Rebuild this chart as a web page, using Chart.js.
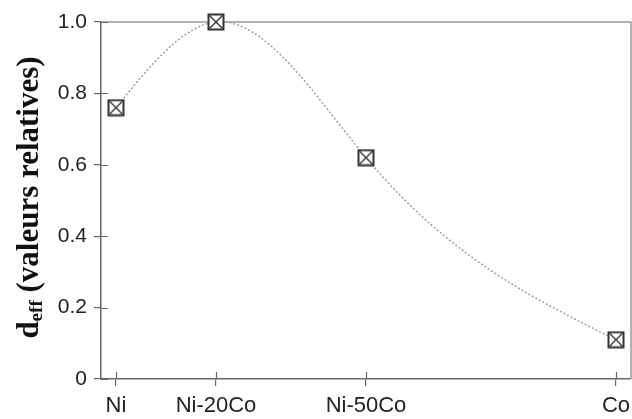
<!DOCTYPE html>
<html lang="fr">
<head>
<meta charset="UTF-8">
<title>d_eff relatif</title>
<script src="https://cdn.jsdelivr.net/npm/chart.js"></script>
<style>
  body { margin: 0; background: #fff; }
  #wrap { width: 632px; height: 419px; position: relative; }
</style>
</head>
<body>
<div id="wrap"><canvas id="deffChart"></canvas></div>
<script>
// composition en % de Co, étiquettes et valeurs relatives de d_eff
const compositions = [0, 20, 50, 100];
const alloyLabels = ['Ni', 'Ni-20Co', 'Ni-50Co', 'Co'];
const deffValues = [0.76, 1.0, 0.62, 0.11];
const yTickValues = [0, 0.2, 0.4, 0.6, 0.8, 1.0];

const axisColor = '#666';
const sans = '"Liberation Sans", Arial, sans-serif';

// carré barré (marqueur)
function makeMarker() {
    const c = document.createElement('canvas');
    c.width = 18; c.height = 18;
    const g = c.getContext('2d');
    g.fillStyle = '#fff';
    g.fillRect(1.5, 1.5, 15, 15);
    g.strokeStyle = '#333';
    g.lineWidth = 2;
    g.strokeRect(1.5, 1.5, 15, 15);
    g.lineWidth = 1.4;
    g.beginPath();
    g.moveTo(2.5, 2.5); g.lineTo(15.5, 15.5);
    g.moveTo(15.5, 2.5); g.lineTo(2.5, 15.5);
    g.stroke();
    return c;
}

// pentes d'une spline cubique naturelle (comme la courbe lissée d'origine)
function naturalSlopes(xs, ys) {
    const n = xs.length;
    const h = [], s = [];
    for (let i = 0; i < n - 1; i++) {
        h.push(xs[i + 1] - xs[i]);
        s.push((ys[i + 1] - ys[i]) / h[i]);
    }
    const M = new Array(n).fill(0);
    if (n > 2) {
        const a = [], b = [], c = [], d = [];
        for (let i = 1; i < n - 1; i++) {
            a.push(h[i - 1]); b.push(2 * (h[i - 1] + h[i])); c.push(h[i]);
            d.push(6 * (s[i] - s[i - 1]));
        }
        const m = b.length;
        for (let i = 1; i < m; i++) {
            const w = a[i] / b[i - 1];
            b[i] -= w * c[i - 1];
            d[i] -= w * d[i - 1];
        }
        const sol = new Array(m);
        sol[m - 1] = d[m - 1] / b[m - 1];
        for (let i = m - 2; i >= 0; i--) sol[i] = (d[i] - c[i] * sol[i + 1]) / b[i];
        for (let i = 0; i < m; i++) M[i + 1] = sol[i];
    }
    const k = [];
    for (let i = 0; i < n; i++) {
        if (i < n - 1) k.push(s[i] - h[i] * (2 * M[i] + M[i + 1]) / 6);
        else k.push(s[i - 1] + h[i - 1] * (M[i - 1] + 2 * M[i]) / 6);
    }
    return k;
}

const splineCurve = {
    id: 'splineCurve',
    beforeDatasetDraw(chart, args) {
        const meta = args.meta;
        const line = meta.dataset;
        line.updateControlPoints(chart.chartArea, 'x');
        const x = chart.scales.x, y = chart.scales.y;
        const k = naturalSlopes(compositions, deffValues);
        meta.data.forEach((pt, i) => {
            const xv = compositions[i], yv = deffValues[i];
            if (i > 0) {
                const hp = (xv - compositions[i - 1]) / 3;
                pt.cp1x = x.getPixelForValue(xv - hp);
                pt.cp1y = y.getPixelForValue(yv - k[i] * hp);
            }
            if (i < compositions.length - 1) {
                const hn = (compositions[i + 1] - xv) / 3;
                pt.cp2x = x.getPixelForValue(xv + hn);
                pt.cp2y = y.getPixelForValue(yv + k[i] * hn);
            }
        });
        line._path = undefined;
    }
};

// cadre, demi-ticks intérieurs et titre de l'axe y
const decor = {
    id: 'decor',
    beforeDatasetsDraw(chart) {
        const { ctx, chartArea: a, scales: { x, y } } = chart;
        ctx.save();
        ctx.strokeStyle = '#999';
        ctx.lineWidth = 1.5;
        ctx.beginPath();
        ctx.moveTo(a.left, a.top);
        ctx.lineTo(a.right, a.top);
        ctx.lineTo(a.right, a.bottom);
        ctx.stroke();

        ctx.strokeStyle = axisColor;
        ctx.lineWidth = 1.2;
        ctx.beginPath();
        x.ticks.forEach(t => {
            const px = Math.round(x.getPixelForValue(t.value)) + 0.5;
            ctx.moveTo(px, a.bottom);
            ctx.lineTo(px, a.bottom - 7);
        });
        y.ticks.forEach(t => {
            const py = Math.round(y.getPixelForValue(t.value)) + 0.5;
            ctx.moveTo(a.left, py);
            ctx.lineTo(a.left + 7, py);
        });
        ctx.stroke();
        ctx.restore();
    },
    afterDraw(chart) {
        const ctx = chart.ctx;
        const big = 'bold 31px "Liberation Serif", serif';
        const small = 'bold 19px "Liberation Serif", serif';
        ctx.save();
        ctx.fillStyle = '#111';
        ctx.textBaseline = 'alphabetic';
        ctx.font = big;
        const wD = ctx.measureText('d').width;
        const rest = ' (valeurs relatives)';
        const wRest = ctx.measureText(rest).width;
        ctx.font = small;
        const wSub = ctx.measureText('eff').width;
        const total = wD + wSub + wRest;
        ctx.translate(37.5, 197.5);
        ctx.rotate(-Math.PI / 2);
        let u = -total / 2;
        ctx.font = big;
        ctx.fillText('d', u, 0);
        u += wD;
        ctx.font = small;
        ctx.fillText('eff', u, 4);
        u += wSub;
        ctx.font = big;
        ctx.fillText(rest, u, 0);
        ctx.restore();
    }
};

const points = compositions.map((c, i) => ({ x: c, y: deffValues[i] }));

new Chart(document.getElementById('deffChart'), {
    type: 'line',
    data: {
        datasets: [{
            data: points,
            borderColor: '#999',
            borderWidth: 1.4,
            borderDash: [2, 2],
            cubicInterpolationMode: 'monotone',
            pointStyle: makeMarker(),
            pointRadius: 9,
            clip: false,
            fill: false
        }]
    },
    options: {
        responsive: true,
        maintainAspectRatio: false,
        animation: false,
        events: [],
        layout: { autoPadding: false, padding: { left: 0, top: 22, right: 1, bottom: 0 } },
        plugins: { legend: { display: false }, tooltip: { enabled: false } },
        scales: {
            x: {
                type: 'linear',
                min: -3,
                max: 103,
                afterBuildTicks: s => { s.ticks = compositions.map(v => ({ value: v })); },
                afterFit: s => { s.height = 40; s.paddingLeft = 0; s.paddingRight = 0; },
                ticks: {
                    autoSkip: false,
                    maxRotation: 0,
                    padding: 7,
                    color: '#222',
                    font: { family: sans, size: 22 },
                    callback: (v, i) => alloyLabels[i]
                },
                grid: { drawOnChartArea: false, tickLength: 7, color: axisColor, lineWidth: 1.2 },
                border: { color: axisColor, width: 1.5 }
            },
            y: {
                min: 0,
                max: 1,
                afterBuildTicks: s => { s.ticks = yTickValues.map(v => ({ value: v })); },
                afterFit: s => { s.width = 101; },
                ticks: {
                    padding: 7,
                    color: '#222',
                    font: { family: sans, size: 21 },
                    callback: v => v === 0 ? '0' : v.toFixed(1)
                },
                grid: { drawOnChartArea: false, tickLength: 7, color: axisColor, lineWidth: 1.2 },
                border: { color: axisColor, width: 1.5 }
            }
        }
    },
    plugins: [decor, splineCurve]
});
</script>
</body>
</html>
